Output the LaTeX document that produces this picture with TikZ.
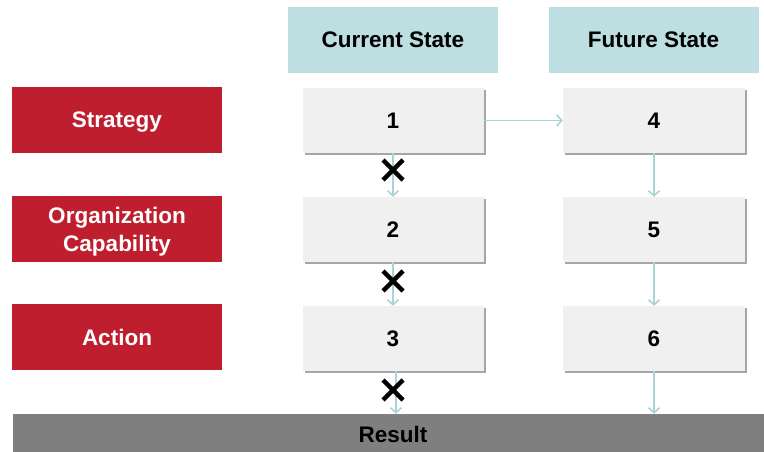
\documentclass[tikz,border=0pt]{standalone}
\usepackage{fontspec}
\setmainfont{Liberation Sans}
\usetikzlibrary{arrows.meta,shadows}
\definecolor{redbox}{HTML}{BE1E2D}
\definecolor{headbox}{HTML}{BDDFE2}
\definecolor{graybox}{HTML}{F0F0F0}
\definecolor{shadowc}{HTML}{A6A6A6}
\definecolor{arrowc}{HTML}{A9D3D7}
\definecolor{resultc}{HTML}{7F7F7F}
\begin{document}
\begin{tikzpicture}[x=1pt,y=-1pt,
  font=\bfseries\fontsize{22.5}{28}\selectfont,
  rowlabel/.style={fill=redbox, text=white, minimum width=210pt, minimum height=66pt, align=center, inner sep=0pt, text depth=0pt},
  headlabel/.style={fill=headbox, text=black, minimum width=210pt, minimum height=66pt, inner sep=0pt},
  statebox/.style={fill=graybox, text=black, minimum width=181pt, minimum height=65pt, inner sep=0pt, text depth=0pt,
     drop shadow={shadow xshift=2pt, shadow yshift=-2pt, fill=shadowc, opacity=1}},
  resultbar/.style={fill=resultc, text=black, minimum width=760pt, minimum height=40pt, inner sep=0pt},
  conn/.style={draw=arrowc, line width=1.6pt, -{Straight Barb[length=5pt,width=11pt,line width=1.6pt]}},
  xmark/.style={draw=black, line width=4.5pt}
]
\useasboundingbox (0,0) rectangle (764,452);

% headers
\node[headlabel] (hcur) at (393,40) {Current State};
\node[headlabel] (hfut) at (653.5,40) {Future State};

% row labels
\node[rowlabel] (rstrat) at (117,120) {Strategy};
\node[rowlabel] (rorg) at (117,229) {Organization\\Capability};
\node[rowlabel] (ract) at (117,337) {Action};

% state boxes
\node[statebox] (b1) at (393,120.5) {1};
\node[statebox] (b2) at (393,229.5) {2};
\node[statebox] (b3) at (393,338.5) {3};
\node[statebox, minimum width=182pt] (b4) at (654,120.5) {4};
\node[statebox, minimum width=182pt] (b5) at (654,229.5) {5};
\node[statebox, minimum width=182pt] (b6) at (654,338.5) {6};

% result bar
\node[resultbar] (res) at (393,434) {Result};

% connectors
\draw[conn] (b1.east) -- (b4.west);
\draw[conn] (b1.south) -- (b2.north);
\draw[conn] (b2.south) -- (b3.north);
\draw[conn] ([xshift=3pt]b3.south) -- ([xshift=3pt]b3.south |- res.north);
\draw[conn] (b4.south) -- (b5.north);
\draw[conn] (b5.south) -- (b6.north);
\draw[conn] (b6.south) -- (b6.south |- res.north);

% X marks
\draw[xmark] (393,170) +(-10,-10) -- +(10,10) +(-10,10) -- +(10,-10);
\draw[xmark] (393,281) +(-10,-10) -- +(10,10) +(-10,10) -- +(10,-10);
\draw[xmark] (393,390) +(-10,-10) -- +(10,10) +(-10,10) -- +(10,-10);
\end{tikzpicture}
\end{document}
